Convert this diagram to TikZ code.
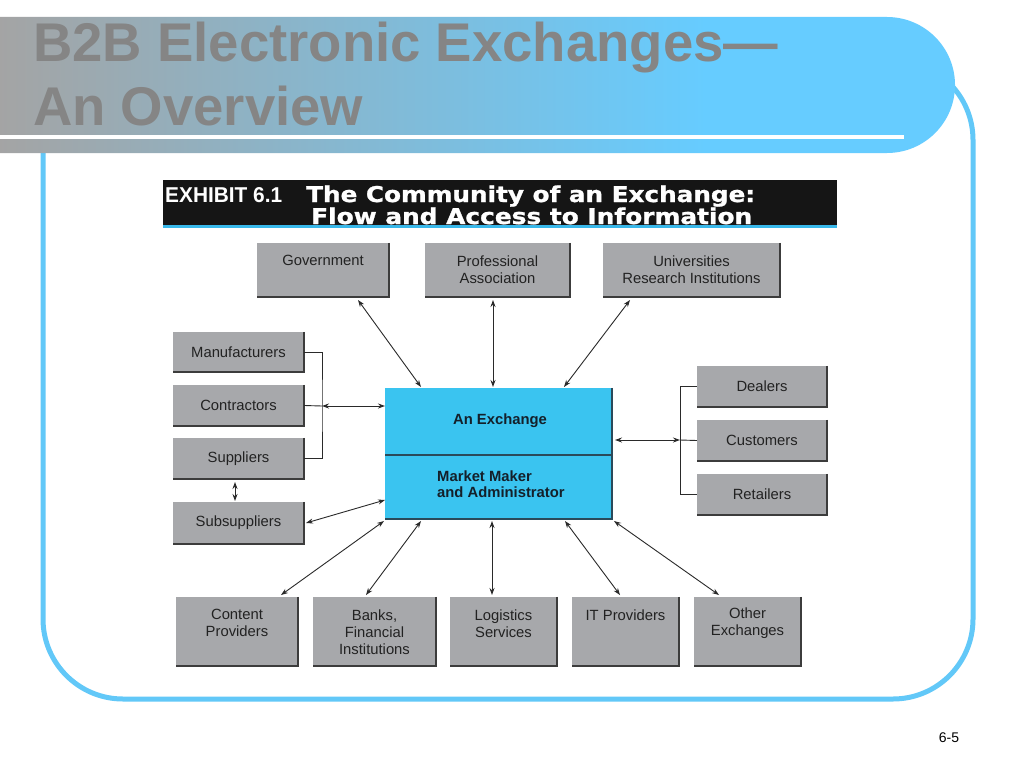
\documentclass[tikz,border=0pt]{standalone}
\usepackage{fontspec}
\setmainfont{Liberation Sans}
\newfontfamily\heavyfont{DejaVu Sans Bold}[FakeBold=1.2]
\usepackage{graphicx}
\usetikzlibrary{arrows.meta,calc}

\definecolor{boxgray}{HTML}{A7A8AB}
\definecolor{shadowgray}{HTML}{3C3C3C}
\definecolor{labeltext}{HTML}{222222}
\definecolor{exblue}{HTML}{3AC4F0}
\definecolor{exshadow}{HTML}{2A4A5A}
\definecolor{extext}{HTML}{14202A}
\definecolor{frameblue}{HTML}{62C8F8}
\definecolor{bannergray}{HTML}{A4A4A4}
\definecolor{bannerblue}{HTML}{66CCFF}
\definecolor{titlegray}{HTML}{858585}
\definecolor{linedark}{HTML}{2A2A2A}
\definecolor{barblack}{HTML}{151515}
\definecolor{barblue}{HTML}{38B8EA}

\pgfdeclarehorizontalshading{bannershade}{100bp}{color(0bp)=(bannergray); color(25bp)=(bannergray); color(62bp)=(bannerblue); color(100bp)=(bannerblue)}

\newcommand\gbox[5]{%
  \node[gbox, minimum width={(#4-#2)*1pt}, minimum height={(#5-#3)*1pt}] (#1) at ({(#2+#4)/2},{(#3+#5)/2}) {};
  \draw[shadowline] (#1.north east) -- (#1.south east) -- (#1.south west);
}

\begin{document}
\begin{tikzpicture}[x=1pt,y=-1pt,
  gbox/.style={rectangle, fill=boxgray, draw=none, inner sep=0pt},
  shadowline/.style={draw=shadowgray, line width=1.8pt},
  lbl/.style={font=\fontsize{14.8}{17}\selectfont, text=labeltext, align=center, inner sep=0pt},
  exlbl/.style={font=\fontsize{14.8}{16}\selectfont\bfseries, text=extext, inner sep=0pt},
  conn/.style={draw=linedark, line width=0.9pt, {Stealth[length=7pt,width=5pt]}-{Stealth[length=7pt,width=5pt]}},
  bracket/.style={draw=linedark, line width=0.9pt},
  titletext/.style={anchor=base west, inner sep=0pt, font=\fontsize{54.5}{60}\selectfont\bfseries, text=titlegray},
  headtext/.style={anchor=base west, inner sep=0pt, text=white},
]
\useasboundingbox (0,0) rectangle (1024,768);
\fill[white] (0,0) rectangle (1024,768);

% content frame
\draw[line width=5pt, frameblue, rounded corners=80pt] (43,60) rectangle (973,699);

% title banner
\shade[shading=bannershade] (-2,17) {[rounded corners=68pt] -- (955,17) -- (955,153)} -- (-2,153) -- cycle;
\draw[white, line width=4pt] (-2,137) -- (904,137);
\node[titletext] (t1) at (33,62) {B2B Electronic Exchanges—};
\node[titletext] (t2) at (33,125) {An Overview};

% exhibit header
\node[fill=barblack, minimum width=674pt, minimum height=46pt, anchor=north west, inner sep=0pt] (bar) at (163,180) {};
\draw[barblue, line width=2.5pt] (bar.south west) -- (bar.south east);
\node[headtext] (exh) at (165,202) {\resizebox{117pt}{15pt}{\bfseries EXHIBIT 6.1}};
\node[headtext] (h1) at (306,202) {\resizebox{449pt}{16.5pt}{\heavyfont The Community of an Exchange:}};
\node[headtext] (h2) at (311,224) {\resizebox{441pt}{16.5pt}{\heavyfont Flow and Access to Information}};

% boxes
\gbox{gov}{257}{243}{389}{297}
\gbox{prof}{425}{243}{570}{297}
\gbox{univ}{603}{243}{780}{297}
\gbox{manu}{173}{332}{304}{372}
\gbox{contr}{173}{385}{304}{426}
\gbox{supp}{173}{438}{304}{479}
\gbox{subs}{173}{502}{304}{544}
\gbox{deal}{697}{366}{827}{407}
\gbox{cust}{697}{420}{827}{461}
\gbox{ret}{697}{474}{827}{515}
\gbox{cont}{176}{597}{298}{666}
\gbox{bank}{313}{597}{436}{666}
\gbox{logi}{450}{597}{557}{666}
\gbox{itp}{572}{597}{679}{666}
\gbox{oth}{694}{597}{801}{666}

% labels
\node[lbl] (govl) at ($(gov.north)+(0,18)$) {Government};
\node[lbl] (profl) at ($(prof.north)+(0,26.5)$) {Professional\\Association};
\node[lbl] (univl) at ($(univ.north)+(0,26.5)$) {Universities\\Research Institutions};
\node[lbl] (manul) at (manu.center) {Manufacturers};
\node[lbl] (contrl) at (contr.center) {Contractors};
\node[lbl] (suppl) at (supp.center) {Suppliers};
\node[lbl] (subsl) at (subs.center) {Subsuppliers};
\node[lbl] (deall) at (deal.center) {Dealers};
\node[lbl] (custl) at (cust.center) {Customers};
\node[lbl] (retl) at (ret.center) {Retailers};
\node[lbl] (contl) at ($(cont.north)+(0,26.5)$) {Content\\Providers};
\node[lbl] (bankl) at ($(bank.north)+(0,35)$) {Banks,\\Financial\\Institutions};
\node[lbl] (logil) at ($(logi.north)+(0,26.5)$) {Logistics\\Services};
\node[lbl] (itpl) at ($(itp.north)+(0,18)$) {IT Providers};
\node[lbl] (othl) at ($(oth.north)+(0,26.5)$) {Other\\Exchanges};

% exchange
\node[fill=exblue, minimum width=227pt, minimum height=131pt, inner sep=0pt] (exch) at (498.5,453.5) {};
\draw[draw=exshadow, line width=1.5pt] (exch.north east) -- (exch.south east) -- (exch.south west);
\coordinate (divl) at (385,455);
\coordinate (divr) at (612,455);
\draw[draw=exshadow, line width=1.5pt] (divl) -- (divr);
\node[exlbl] (exa) at (500,421) {An Exchange};
\node[exlbl, align=left, anchor=west] (exm) at (437,484) {Market Maker\\and Administrator};

% connector end points
\coordinate (govA) at (358,300);
\coordinate (exGov) at (421,387);
\coordinate (profA) at (493,300);
\coordinate (exProf) at (493,387);
\coordinate (univA) at (630,300);
\coordinate (exUniv) at (564,387);
\coordinate (lbr) at (322,406);
\coordinate (exL) at (385,406);
\coordinate (rbr) at (680,440);
\coordinate (exR) at (615,440);
\coordinate (supA) at (235,482);
\coordinate (subA) at (235,501);
\coordinate (subB) at (306,523);
\coordinate (exSub) at (385,500);
\coordinate (contA) at (281,595);
\coordinate (exCont) at (384,521);
\coordinate (bankA) at (366,595);
\coordinate (exBank) at (421,521);
\coordinate (logiA) at (492,595);
\coordinate (exLogi) at (492,521);
\coordinate (itpA) at (620,595);
\coordinate (exItp) at (565,521);
\coordinate (othA) at (719,595);
\coordinate (exOth) at (614,521);

% brackets
\draw[bracket] (manu.east) -| (lbr) |- (supp.east);
\draw[bracket] (contr.east) -- (lbr);
\draw[bracket] (deal.west) -| (rbr) |- (ret.west);
\draw[bracket] (cust.west) -- (rbr);

% connectors
\draw[conn] (govA) -- (exGov);
\draw[conn] (profA) -- (exProf);
\draw[conn] (univA) -- (exUniv);
\draw[conn] (lbr) -- (exL);
\draw[conn] (rbr) -- (exR);
\draw[conn] (supA) -- (subA);
\draw[conn] (subB) -- (exSub);
\draw[conn] (contA) -- (exCont);
\draw[conn] (bankA) -- (exBank);
\draw[conn] (logiA) -- (exLogi);
\draw[conn] (itpA) -- (exItp);
\draw[conn] (othA) -- (exOth);

% page number
\node[font=\fontsize{14}{16}\selectfont, inner sep=0pt] (pnum) at (949,738) {6-5};
\end{tikzpicture}
\end{document}
